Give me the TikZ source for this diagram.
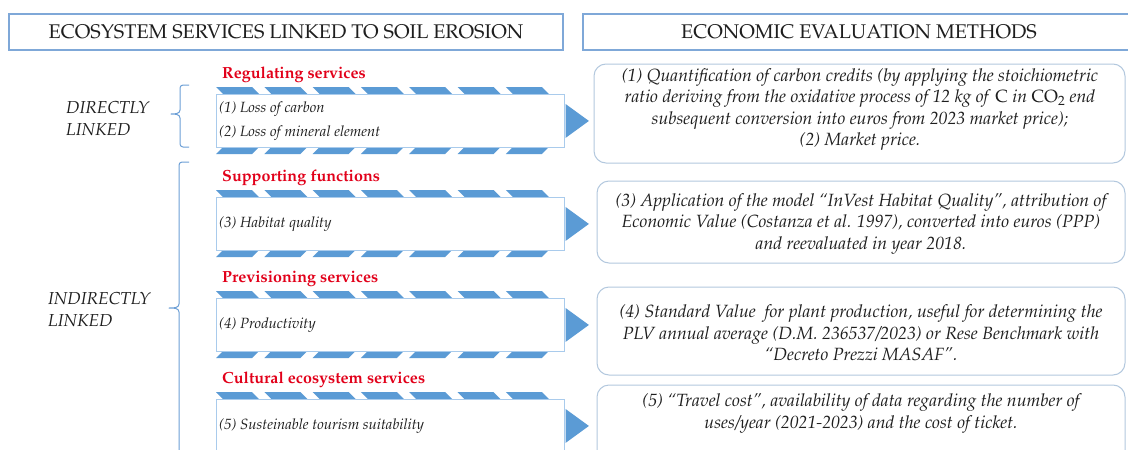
\documentclass[tikz,border=0pt]{standalone}
\usepackage[T1]{fontenc}
\usepackage{mathpazo}
\usetikzlibrary{calc}

\definecolor{hdrblue}{HTML}{7FA8D8}
\definecolor{boxblue}{HTML}{A9CBEC}
\definecolor{stripeblue}{HTML}{5B9BD5}
\definecolor{methodgray}{HTML}{B3C8DE}
\definecolor{svcred}{HTML}{E2001A}
\definecolor{braceblue}{HTML}{6C9FD6}
\definecolor{ink}{HTML}{1E1E1E}

\tikzset{
  hdrbox/.style={draw=hdrblue, line width=1.1pt, fill=white, inner sep=0pt,
    text=ink, font=\fontsize{19.8}{22}\selectfont},
  svcbox/.style={draw=boxblue, line width=0.9pt, fill=white, inner sep=0pt,
    anchor=north west, minimum width=348pt, minimum height=53pt},
  stripe/.style={fill=stripeblue},
  methodbox/.style={draw=methodgray, line width=1pt, rounded corners=12pt,
    fill=white, inner sep=0pt},
  methodtext/.style={align=center, inner sep=0pt, text=ink,
    font=\fontsize{17.7}{21.5}\selectfont\itshape},
  svctitle/.style={anchor=west, inner sep=0pt, text=svcred,
    font=\fontsize{16.1}{18}\selectfont\bfseries},
  svctext/.style={anchor=west, inner sep=0pt, text=ink,
    font=\fontsize{14.8}{16}\selectfont\itshape},
  linklabel/.style={anchor=west, align=left, inner sep=0pt, text=ink,
    font=\fontsize{17.3}{22}\selectfont\itshape},
  bracepen/.style={draw=braceblue, line width=1pt, line join=round},
}

\begin{document}
\begin{tikzpicture}[x=1pt, y=-1pt]
\clip (0,0) rectangle (1128,450);
\fill[white] (0,0) rectangle (1128,450);

% column headers
\node[hdrbox, minimum width=554pt, minimum height=36pt] (hleft) at (286,32)
  {ECOSYSTEM SERVICES LINKED TO SOIL EROSION};
\node[hdrbox, minimum width=556pt, minimum height=36pt] (hright) at (861,32)
  {\hspace*{-4pt}ECONOMIC EVALUATION METHODS};

% striped arrow bands behind each service box
\foreach \T in {94,197,298,399} {
  \foreach \i in {0,...,6} {
    \pgfmathsetmacro\xa{216+48.3*\i}
    \fill[stripe] (\xa,\T-7) -- (\xa+36,\T-7) -- (\xa+43,\T) -- (\xa+7,\T) -- cycle;
    \fill[stripe] (\xa+7,\T+53) -- (\xa+43,\T+53) -- (\xa+36,\T+60) -- (\xa,\T+60) -- cycle;
  }
}

% service boxes
\node[svcbox] (svc1) at (216,94) {};
\node[svcbox] (svc2) at (216,197) {};
\node[svcbox] (svc3) at (216,298) {};
\node[svcbox] (svc4) at (216,399) {};

% arrow heads pointing to the evaluation methods
\foreach \n in {svc1,svc2,svc3,svc4} {
  \fill[stripeblue] ($(\n.east)+(0.6,-17)$) -- ($(\n.east)+(24,0)$) -- ($(\n.east)+(0.6,17)$) -- cycle;
}

% service categories
\node[svctitle] (t1) at (222,75) {Regulating services};
\node[svctitle] (t2) at (222,177.5) {Supporting functions};
\node[svctitle] (t3) at (222,278.5) {Previsioning services};
\node[svctitle] (t4) at (222,380) {Cultural ecosystem services};

% service items
\node[svctext] (s1a) at (219,109) {(1) Loss of carbon};
\node[svctext] (s1b) at (219,133) {(2) Loss of mineral element};
\node[svctext] (s3) at (219,224) {(3) Habitat quality};
\node[svctext] (s4) at (219,325) {(4) Productivity};
\node[svctext] (s5) at (219,426) {(5) Susteinable tourism suitability};

% braces
\draw[bracepen] (189,85) -- (183,85) to[out=180,in=90] (180,88) -- (180,110)
  to[out=-90,in=0] (171,114) to[out=0,in=90] (180,118) -- (180,144)
  to[out=-90,in=180] (183,147) -- (189,147);
\draw[bracepen] (189,162) -- (182,162) to[out=180,in=90] (179,165) -- (179,304)
  to[out=-90,in=0] (169,308) to[out=0,in=90] (179,312) -- (179,460);

% link labels
\node[linklabel] (dl) at (66,118.5) {DIRECTLY\\LINKED};
\node[linklabel] (il) at (48,310) {INDIRECTLY\\LINKED};

% evaluation method boxes
\node[methodbox, minimum width=531pt, minimum height=99pt] (m1) at (859.5,113.5) {};
\node[methodbox, minimum width=528pt, minimum height=82pt] (m2) at (861,222) {};
\node[methodbox, minimum width=528pt, minimum height=88pt] (m3) at (861,331) {};
\node[methodbox, minimum width=528pt, minimum height=110pt] (m4) at (861,440) {};

\node[methodtext] (m1t) at (860,109.5) {(1) Quantification of carbon credits (by applying the stoichiometric\\
  ratio deriving from the oxidative process of 12 kg of \textup{C} in \textup{CO}$_2$ end\\
  subsequent conversion into euros from 2023 market price);\\
  (2) Market price.};
\node[methodtext] (m2t) at (861,224) {(3) Application of the model ``InVest Habitat Quality'', attribution of\\
  Economic Value (Costanza et al. 1997), converted into euros (PPP)\\
  and reevaluated in year 2018.};
\node[methodtext] (m3t) at (861,333) {(4) Standard Value\ \ for plant production, useful for determining the\\
  PLV annual average (D.M. 236537/2023) or Rese Benchmark with\\
  ``Decreto Prezzi MASAF''.};
\node[methodtext] (m4t) at (861,413.5) {(5) ``Travel cost'', availability of data regarding the number of\\
  uses/year (2021-2023) and the cost of ticket.};
\end{tikzpicture}
\end{document}
